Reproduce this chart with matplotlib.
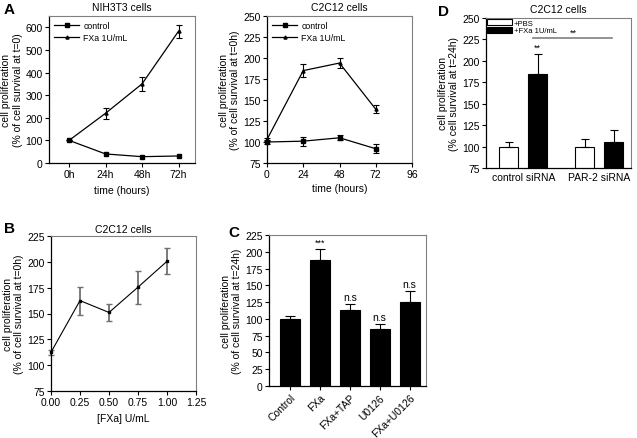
import matplotlib
matplotlib.use("Agg")
import matplotlib.pyplot as plt
from matplotlib.patches import Patch
from matplotlib.lines import Line2D
import numpy as np

plt.rcParams['font.family'] = ['Liberation Sans', 'DejaVu Sans']
plt.rcParams['font.size'] = 7

# ---- Panel A (NIH3T3) ----
a1_labels = ['0h', '24h', '48h', '72h']
a1_control = [100, 40, 28, 31]
a1_fxa = [100, 220, 350, 583]
a1_fxa_err = [0, 24, 31, 29]

# ---- Panel A (C2C12) ----
a2_hours = [0, 24, 48, 72]
a2_control = [100, 101, 105, 92]
a2_control_err = [2, 5.5, 3, 5.5]
a2_fxa = [103, 185, 194, 139]
a2_fxa_err = [2, 7.5, 6, 5]

# ---- Panel B ----
b_conc = [0.0, 0.25, 0.5, 0.75, 1.0]
b_vals = [112.5, 162.5, 151, 175.5, 200.5]
b_err = [2.5, 13.5, 8, 16, 12.5]

# ---- Panel C ----
c_labels = ['Control', 'FXa', 'FXa+TAP', 'U0126', 'FXa+U0126']
c_vals = [100, 188, 113, 85, 125]
c_err = [4, 16, 9.5, 7, 17]
c_sig = ['', '***', 'n.s', 'n.s', 'n.s']

# ---- Panel D ----
d_groups = ['control siRNA', 'PAR-2 siRNA']
d_pbs = [100, 100]
d_pbs_err = [5.5, 8.5]
d_fxa = [184.5, 105.5]
d_fxa_err = [24, 14]
d_legend = ['+PBS', '+FXa 1U/mL']

W, H = 637, 439
fig = plt.figure(figsize=(W / 100, H / 100), dpi=100)


def ax_px(l, t, r, b):
    return fig.add_axes([l / W, 1 - b / H, (r - l) / W, (b - t) / H])


def style(ax):
    for s in ['top', 'right']:
        ax.spines[s].set_color('#808080')
        ax.spines[s].set_linewidth(0.8)
    for s in ['left', 'bottom']:
        ax.spines[s].set_linewidth(0.9)
    ax.tick_params(direction='out', length=3, width=0.8, labelsize=7.5,
                   top=False, right=False, pad=1.5)


def line_legend(ax):
    handles = [Line2D([], [], color='black', lw=0.9, marker='s', ms=3.2),
               Line2D([], [], color='black', lw=0.9, marker='^', ms=2.2)]
    ax.legend(handles=handles, labels=['control', 'FXa 1U/mL'], loc='upper left',
              frameon=False, fontsize=6.3, handlelength=2.8, borderaxespad=0.2,
              labelspacing=0.3, handletextpad=0.5)


ylab0 = 'cell proliferation\n(% of cell survival at t=0)'
ylab0h = 'cell proliferation\n(% of cell survival at t=0h)'
ylab24 = 'cell proliferation\n(% of cell survival at t=24h)'

# A1
ax = ax_px(49, 17, 195, 164)
style(ax)
x = np.arange(len(a1_labels))
ax.plot(x, a1_control, color='black', lw=0.9, marker='s', ms=3.2)
ax.errorbar(x, a1_fxa, yerr=a1_fxa_err, color='black', lw=0.9, marker='^', ms=2.2,
            capsize=2, elinewidth=0.8, capthick=0.8)
ax.set_xlim(-0.55, 3.45)
ax.set_ylim(0, 650)
ax.set_yticks(range(0, 601, 100))
ax.set_xticks(x)
ax.set_xticklabels(a1_labels)
ax.set_xlabel('time (hours)', fontsize=7.5, labelpad=4)
ax.set_ylabel(ylab0, fontsize=7.5, labelpad=2)
ax.set_title('NIH3T3 cells', fontsize=7.5, pad=4)
line_legend(ax)

# A2
ax = ax_px(267, 17, 412, 164)
style(ax)
ax.errorbar(a2_hours, a2_control, yerr=a2_control_err, color='black', lw=0.9, marker='s',
            ms=3.2, capsize=2, elinewidth=0.8, capthick=0.8, clip_on=False)
ax.errorbar(a2_hours, a2_fxa, yerr=a2_fxa_err, color='black', lw=0.9, marker='^', ms=2.2,
            capsize=2, elinewidth=0.8, capthick=0.8, clip_on=False)
ax.set_xlim(0, 96)
ax.set_ylim(75, 250)
ax.set_xticks([0, 24, 48, 72, 96])
ax.set_yticks(range(75, 251, 25))
ax.set_xlabel('time (hours)', fontsize=7.5, labelpad=3)
ax.set_ylabel(ylab0h, fontsize=7.5, labelpad=2)
ax.set_title('C2C12 cells', fontsize=7.5, pad=4)
line_legend(ax)

# D
ax = ax_px(486, 19, 631, 169)
style(ax)
gx = np.arange(len(d_groups))
bw = 0.25
off = 0.19
ax.bar(gx - off, d_pbs, bw, color='white', edgecolor='black', lw=0.8)
ax.bar(gx + off, d_fxa, bw, color='black', edgecolor='black', lw=0.8)
ax.errorbar(gx - off, d_pbs, yerr=[np.zeros(2), d_pbs_err], fmt='none', ecolor='black',
            elinewidth=0.8, capsize=3, capthick=0.8)
ax.errorbar(gx + off, d_fxa, yerr=[np.zeros(2), d_fxa_err], fmt='none', ecolor='black',
            elinewidth=0.8, capsize=3, capthick=0.8)
ax.set_xlim(-0.49, 1.42)
ax.set_ylim(75, 250)
ax.set_yticks(range(75, 251, 25))
ax.set_xticks(gx)
ax.set_xticklabels(d_groups, fontsize=7.5)
ax.tick_params(axis='x', length=0, pad=3)
ax.set_ylabel('cell proliferation\n(% cell survival at t=24h)', fontsize=7.5, labelpad=2)
ax.set_title('C2C12 cells', fontsize=7.5, pad=4)
ax.plot([0.13, 1.17], [227, 227], color='#808080', lw=1.2)
ax.text(0.66, 228, '**', ha='center', va='bottom', fontsize=6.5)
ax.text(off, 211, '**', ha='center', va='bottom', fontsize=6.5)
ax.legend(handles=[Patch(facecolor='white', edgecolor='black', lw=0.8),
                   Patch(facecolor='black', edgecolor='black', lw=0.8)],
          labels=d_legend, loc='upper left', frameon=False, fontsize=5.5,
          handlelength=3.3, handleheight=0.8, borderaxespad=0.15, labelspacing=0.0,
          handletextpad=0.2, borderpad=0.0)

# B
ax = ax_px(51, 237, 196, 392)
style(ax)
ax.errorbar(b_conc, b_vals, yerr=b_err, color='black', lw=0.8, marker='s', ms=1.8,
            ecolor='#707070', elinewidth=1.3, capsize=2, capthick=1.0, clip_on=False)
ax.set_xlim(0, 1.25)
ax.set_ylim(75, 225)
ax.set_xticks([0, 0.25, 0.5, 0.75, 1.0, 1.25])
ax.set_xticklabels(['0.00', '0.25', '0.50', '0.75', '1.00', '1.25'])
ax.set_yticks(range(75, 226, 25))
ax.set_xlabel('[FXa] U/mL', fontsize=7.5, labelpad=4)
ax.set_ylabel(ylab0h, fontsize=7.5, labelpad=2)
ax.set_title('C2C12 cells', fontsize=7.5, pad=3)

# C
ax = ax_px(269, 236, 426, 387)
style(ax)
cx = np.arange(len(c_labels))
ax.bar(cx, c_vals, 0.67, color='black', edgecolor='black', lw=0.8)
ax.errorbar(cx, c_vals, yerr=[np.zeros(len(cx)), c_err], fmt='none', ecolor='black',
            elinewidth=0.8, capsize=3.5, capthick=0.8)
for xi, v, e, s in zip(cx, c_vals, c_err, c_sig):
    if s:
        ax.text(xi, v + e + 3, s, ha='center', va='bottom',
                fontsize=6.5 if s == '***' else 7.5)
ax.set_xlim(-0.7, 4.55)
ax.set_ylim(0, 225)
ax.set_yticks(range(0, 226, 25))
ax.set_xticks(cx)
ax.set_xticklabels(c_labels, rotation=45, ha='right', rotation_mode='anchor', fontsize=7.5)
ax.set_ylabel(ylab24, fontsize=7.5, labelpad=2)

# Panel letters
for lbl, px, py in [('A', 4, 3), ('B', 4, 222), ('C', 228, 226), ('D', 438, 5)]:
    fig.text(px / W, 1 - py / H, lbl, fontsize=11, fontweight='bold', va='top', ha='left')

fig.savefig('out.png', dpi=100)
